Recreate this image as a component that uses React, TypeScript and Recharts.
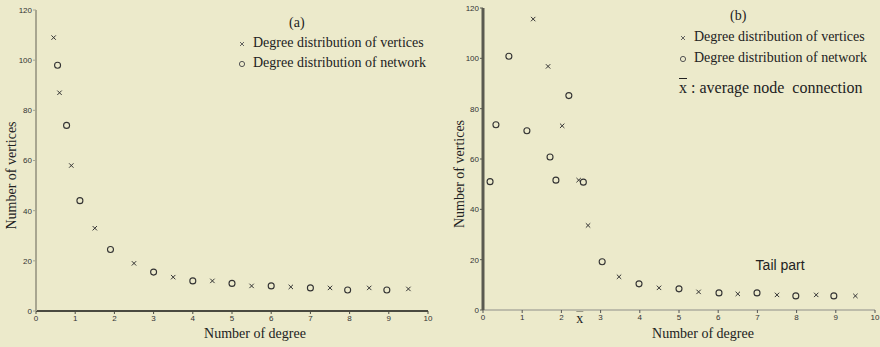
import { ScatterChart, Scatter, XAxis, YAxis, Legend, ReferenceLine, ReferenceDot } from 'recharts'

const BG = '#ECEACB'
const SERIF = '"Liberation Serif", "Times New Roman", serif'
const SANS = '"Liberation Sans", Arial, sans-serif'

const degreeTicks = [0, 1, 2, 3, 4, 5, 6, 7, 8, 9, 10]
const countTicks = [0, 20, 40, 60, 80, 100, 120]

// panel (a)
const aVertexDegree = [0.45, 0.6, 0.9, 1.5, 2.5, 3.5, 4.5, 5.5, 6.5, 7.5, 8.5, 9.5]
const aVertexCount = [109, 87, 58, 33, 19, 13.5, 12, 10, 9.6, 9.2, 9.2, 8.8]
const aNetworkDegree = [0.55, 0.78, 1.12, 1.9, 3, 4, 5, 6, 7, 7.95, 8.95]
const aNetworkCount = [98, 74, 44, 24.5, 15.5, 12, 11, 10, 9.2, 8.4, 8.4]

// panel (b)
const bVertexDegree = [1.28, 1.66, 2.02, 2.44, 2.68, 3.47, 4.49, 5.5, 6.5, 7.5, 8.5, 9.5]
const bVertexCount = [115.6, 96.8, 73.2, 51.6, 33.6, 13.2, 8.8, 7.2, 6.4, 6, 6, 5.6]
const bNetworkDegree = [0.18, 0.33, 0.66, 1.12, 1.71, 1.86, 2.19, 2.56, 3.04, 3.98, 5, 6.02, 6.99, 7.98, 8.95]
const bNetworkCount = [51, 73.6, 100.8, 71.2, 60.8, 51.6, 85.2, 50.8, 19.2, 10.4, 8.4, 6.8, 6.8, 5.6, 5.6]

const avgDegreeB = 2.47
const tailLabelDegree = 7.58
const tailLabelCount = 18

const toPoints = (xs: number[], ys: number[]) => xs.map((x, i) => ({ x, y: ys[i] }))

function Cross(props: any) {
  const { cx, cy } = props
  const s = 2.2
  return (
    <g stroke="#333" strokeWidth={1}>
      <line x1={cx - s} y1={cy - s} x2={cx + s} y2={cy + s} />
      <line x1={cx - s} y1={cy + s} x2={cx + s} y2={cy - s} />
    </g>
  )
}

function Ring(props: any) {
  const { cx, cy } = props
  return <circle cx={cx} cy={cy} r={3} fill="none" stroke="#333" strokeWidth={1.1} />
}

function LegendMark({ kind }: { kind: 'x' | 'o' }) {
  return (
    <svg width={10} height={10} style={{ marginRight: 6, verticalAlign: 'middle' }}>
      {kind === 'x' ? (
        <g stroke="#555" strokeWidth={0.9}>
          <line x1={3} y1={3} x2={7} y2={7} />
          <line x1={3} y1={7} x2={7} y2={3} />
        </g>
      ) : (
        <circle cx={5} cy={5} r={2.6} fill="none" stroke="#555" strokeWidth={1} />
      )}
    </svg>
  )
}

function LegendBox({ title, lineHeight, note }: { title: string; lineHeight: number; note?: boolean }) {
  return (
    <div style={{ fontFamily: SERIF, fontSize: 14, color: '#222', lineHeight: `${lineHeight}px`, whiteSpace: 'nowrap' }}>
      <div style={{ paddingLeft: 52 }}>{title}</div>
      <div>
        <LegendMark kind="x" />
        Degree distribution of vertices
      </div>
      <div>
        <LegendMark kind="o" />
        Degree distribution of network
      </div>
      {note && (
        <div style={{ fontSize: 16, lineHeight: '22px', marginTop: 9, paddingLeft: 1 }}>
          <span style={{ textDecoration: 'overline' }}>x</span> : average node&nbsp; connection
        </div>
      )}
    </div>
  )
}

const yTitle = (dx: number) => (props: any) => {
  const vb = props.viewBox || { x: 0, y: 0, width: 0, height: 0 }
  const cx = vb.x + dx
  const cy = vb.y + vb.height / 2 + 15
  return (
    <text
      x={cx}
      y={cy}
      transform={`rotate(-90, ${cx}, ${cy})`}
      textAnchor="middle"
      dominantBaseline="central"
      fontFamily={SERIF}
      fontSize={14}
      fill="#222"
    >
      Number of vertices
    </text>
  )
}

const xTitle = (dx: number, dy: number) => (props: any) => {
  const vb = props.viewBox || { x: 0, y: 0, width: 0, height: 0 }
  return (
    <text
      x={vb.x + vb.width / 2 + dx}
      y={vb.y + dy}
      textAnchor="middle"
      dominantBaseline="central"
      fontFamily={SERIF}
      fontSize={14}
      fill="#222"
    >
      Number of degree
    </text>
  )
}

const tickStyle = { fontSize: 8, fill: '#333', fontFamily: SANS }

export default function App() {
  return (
    <div style={{ position: 'absolute', left: 0, top: 0, width: 880, height: 347, background: BG }}>
      <div style={{ position: 'absolute', left: 0, top: 0 }}>
        <ScatterChart width={440} height={347} margin={{ top: 10, right: 12, left: 0, bottom: 0 }}>
          <XAxis
            type="number"
            dataKey="x"
            domain={[0, 10]}
            ticks={degreeTicks}
            height={36}
            tick={tickStyle}
            tickSize={3}
            tickMargin={1}
            stroke="#4a4a40"
            strokeWidth={2}
            tickLine={{ stroke: '#4a4a40', strokeWidth: 1 }}
            label={{ content: xTitle(23, 22) }}
          />
          <YAxis
            type="number"
            dataKey="y"
            domain={[0, 120]}
            ticks={countTicks}
            width={36}
            tick={tickStyle}
            tickSize={3}
            tickMargin={1}
            stroke="#a8a690"
            strokeWidth={2}
            tickLine={{ stroke: '#a8a690', strokeWidth: 1 }}
            label={{ content: yTitle(11) }}
          />
          <Legend
            layout="vertical"
            align="center"
            verticalAlign="middle"
            wrapperStyle={{ left: 237, top: 13 }}
            content={() => <LegendBox title="(a)" lineHeight={20} />}
          />
          <Scatter
            name="Degree distribution of vertices"
            data={toPoints(aVertexDegree, aVertexCount)}
            shape={Cross}
            isAnimationActive={false}
          />
          <Scatter
            name="Degree distribution of network"
            data={toPoints(aNetworkDegree, aNetworkCount)}
            shape={Ring}
            isAnimationActive={false}
          />
        </ScatterChart>
      </div>
      <div style={{ position: 'absolute', left: 440, top: 0 }}>
        <ScatterChart width={440} height={347} margin={{ top: 8, right: 5, left: 0, bottom: 0 }}>
          <XAxis
            type="number"
            dataKey="x"
            domain={[0, 10]}
            ticks={degreeTicks}
            height={37}
            tick={tickStyle}
            tickSize={3}
            tickMargin={1}
            stroke="#bdbcaa"
            strokeWidth={2}
            tickLine={{ stroke: '#555', strokeWidth: 1 }}
            label={{ content: xTitle(24, 23) }}
          />
          <YAxis
            type="number"
            dataKey="y"
            domain={[0, 120]}
            ticks={countTicks}
            width={43}
            tick={tickStyle}
            tickSize={3}
            tickMargin={1}
            stroke="#5a5a50"
            strokeWidth={3}
            tickLine={{ stroke: '#5a5a50', strokeWidth: 1 }}
            label={{ content: yTitle(19) }}
          />
          <Legend
            layout="vertical"
            align="center"
            verticalAlign="middle"
            wrapperStyle={{ left: 238, top: 5 }}
            content={() => <LegendBox title="(b)" lineHeight={21} note />}
          />
          <ReferenceLine
            x={avgDegreeB}
            stroke="none"
            label={{
              content: (p: any) => {
                const vb = p.viewBox || { x: 0, y: 0, height: 0 }
                return (
                  <text
                    x={vb.x}
                    y={vb.y + vb.height + 13}
                    textAnchor="middle"
                    fontFamily={SERIF}
                    fontSize={14}
                    fill="#222"
                    style={{ textDecoration: 'overline' }}
                  >
                    x
                  </text>
                )
              },
            }}
          />
          <ReferenceDot
            x={tailLabelDegree}
            y={tailLabelCount}
            r={1}
            fill="none"
            stroke="none"
            label={{ value: 'Tail  part', position: 'center', fontFamily: SANS, fontSize: 14, fill: '#222' }}
          />
          <Scatter
            name="Degree distribution of vertices"
            data={toPoints(bVertexDegree, bVertexCount)}
            shape={Cross}
            isAnimationActive={false}
          />
          <Scatter
            name="Degree distribution of network"
            data={toPoints(bNetworkDegree, bNetworkCount)}
            shape={Ring}
            isAnimationActive={false}
          />
        </ScatterChart>
      </div>
    </div>
  )
}
